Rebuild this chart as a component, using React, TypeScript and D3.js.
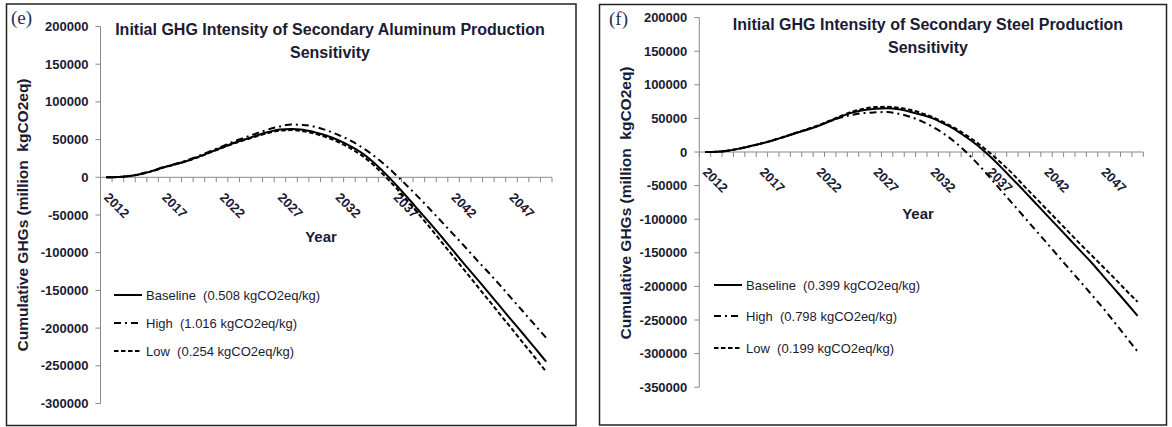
import React from 'react';
import * as d3 from 'd3';

const YEARS = [2012, 2013, 2014, 2015, 2016, 2017, 2018, 2019, 2020, 2021, 2022, 2023, 2024, 2025, 2026, 2027, 2028, 2029, 2030, 2031, 2032, 2033, 2034, 2035, 2036, 2037, 2038, 2039, 2040, 2041, 2042, 2043, 2044, 2045, 2046, 2047, 2048, 2049, 2050];
const YEAR_LABELS = [2012, 2017, 2022, 2027, 2032, 2037, 2042, 2047];

// (e) Secondary aluminum
const AL_BASELINE = [0, 400, 1800, 4500, 8500, 13500, 17500, 22000, 27500, 33500, 39500, 45500, 50400, 55500, 60000, 63300, 64200, 63000, 59800, 55500, 49500, 42000, 33000, 21000, 6500, -9500, -26500, -44000, -61500, -79500, -98000, -116500, -134500, -152500, -171000, -189500, -207500, -226000, -244500];
const AL_HIGH = [0, 400, 1900, 4700, 8800, 13800, 18000, 22800, 28500, 34800, 41000, 47500, 53000, 58500, 63500, 67500, 70000, 69500, 67000, 62500, 56500, 49500, 40500, 30000, 17500, 3500, -11500, -27000, -43000, -59500, -76000, -92500, -109500, -126000, -143000, -160500, -178000, -195500, -213000];
const AL_LOW = [0, 400, 1700, 4300, 8300, 13200, 17200, 21700, 27000, 33000, 39000, 44800, 49700, 54500, 58800, 61800, 62600, 61200, 57800, 53200, 47000, 39200, 29800, 17500, 2500, -13500, -31000, -49000, -67500, -86500, -105500, -124500, -143500, -162500, -181500, -200500, -219500, -238500, -258000];

// (f) Secondary steel
const ST_BASELINE = [0, 400, 2000, 5000, 8800, 12800, 17500, 22800, 28200, 33500, 39000, 46000, 53000, 59000, 62500, 64500, 65000, 63500, 60000, 55500, 50000, 42000, 33000, 21500, 9000, -6000, -22500, -40000, -57500, -75500, -93500, -111500, -129500, -147500, -165500, -185000, -204500, -224000, -244000];
const ST_HIGH = [0, 400, 2000, 5000, 8800, 12800, 17500, 22800, 28200, 33500, 39000, 46000, 51500, 55500, 58000, 59000, 59500, 57000, 52500, 46000, 37500, 27000, 14000, -1000, -18500, -37500, -57000, -76500, -96000, -115500, -135000, -154500, -174000, -193500, -213000, -233000, -254000, -275500, -297000];
const ST_LOW = [0, 400, 2000, 5000, 8800, 12900, 17700, 23000, 28700, 34200, 40000, 47000, 54000, 60500, 64500, 66800, 67300, 66000, 62800, 58000, 51800, 44000, 35000, 24500, 12500, -1000, -16000, -32000, -50000, -67500, -85000, -102500, -120000, -137500, -154500, -171500, -188500, -206000, -223000];

const AL_TICKS = [200000, 150000, 100000, 50000, 0, -50000, -100000, -150000, -200000, -250000, -300000];
const ST_TICKS = [200000, 150000, 100000, 50000, 0, -50000, -100000, -150000, -200000, -250000, -300000, -350000];

const AL_LEGEND = ['Baseline  (0.508 kgCO2eq/kg)', 'High  (1.016 kgCO2eq/kg)', 'Low  (0.254 kgCO2eq/kg)'];
const ST_LEGEND = ['Baseline  (0.399 kgCO2eq/kg)', 'High  (0.798 kgCO2eq/kg)', 'Low  (0.199 kgCO2eq/kg)'];

const AL_TITLE = ['Initial GHG Intensity of Secondary Aluminum Production', 'Sensitivity'];
const ST_TITLE = ['Initial GHG Intensity of Secondary Steel Production', 'Sensitivity'];

const SANS = '"Liberation Sans", Arial, sans-serif';
const TEXT = '#1b1b33';
const AXIS = '#8a8a8a';
const DASHES = ['none', '7,4,2,4', '4.5,2.5'];

type PanelCfg = {
  tag: string;
  box: [number, number, number, number];
  x0: number; x1: number;
  domain: [number, number]; range: [number, number];
  ticks: number[];
  series: number[][];
  legend: string[];
  legendX: number; legendY: number[];
  title: string[]; titleX: number; titleY: number[];
  yTitleX: number; yTitleY: number;
  yearX: number; yearY: number;
  tagX: number; tagY: number;
};

function Panel({ c }: { c: PanelCfg }) {
  const x = d3.scaleBand<number>().domain(YEARS).range([c.x0, c.x1]).padding(0);
  const y = d3.scaleLinear().domain(c.domain).range(c.range);
  const bw = x.bandwidth();
  const cx = (yr: number) => (x(yr) as number) + bw / 2;
  const y0 = y(0);
  const line = d3.line<number>()
    .x((_, i) => cx(YEARS[i]))
    .y((v) => y(v))
    .curve(d3.curveMonotoneX);
  const bounds = [...YEARS.map((yr) => x(yr) as number), c.x1];
  return (
    <g>
      <rect x={c.box[0]} y={c.box[1]} width={c.box[2]} height={c.box[3]} fill="#fff" stroke="#222" strokeWidth={1.5} />
      <text x={c.tagX} y={c.tagY} fontFamily='"Liberation Serif", "Times New Roman", serif' fontSize={19} fill="#1f2f55">{c.tag}</text>
      {c.title.map((t, i) => (
        <text key={i} x={c.titleX} y={c.titleY[i]} textAnchor="middle" fontFamily={SANS} fontWeight="bold" fontSize={16} fill={TEXT}>{t}</text>
      ))}
      {/* y axis */}
      <line x1={c.x0} x2={c.x0} y1={y(c.ticks[0])} y2={y(c.ticks[c.ticks.length - 1])} stroke={AXIS} strokeWidth={1} />
      {c.ticks.map((t) => (
        <g key={t}>
          <line x1={c.x0 - 5} x2={c.x0} y1={y(t)} y2={y(t)} stroke={AXIS} strokeWidth={1} />
          <text x={c.x0 - 12} y={y(t)} dy="0.35em" textAnchor="end" fontFamily={SANS} fontWeight="bold" fontSize={13} fill={TEXT}>{t}</text>
        </g>
      ))}
      {/* x axis */}
      <line x1={c.x0} x2={c.x1} y1={y0} y2={y0} stroke={AXIS} strokeWidth={1} />
      {bounds.map((b, i) => (
        <line key={i} x1={b} x2={b} y1={y0} y2={y0 + 5} stroke={AXIS} strokeWidth={1} />
      ))}
      {YEAR_LABELS.map((yr) => (
        <text key={yr} transform={`translate(${cx(yr) - 3},${y0 + 21}) rotate(45)`} fontFamily={SANS} fontWeight="bold" fontSize={13} fill={TEXT}>{yr}</text>
      ))}
      <text x={c.yearX} y={c.yearY} dy="0.35em" textAnchor="middle" fontFamily={SANS} fontWeight="bold" fontSize={15} fill={TEXT}>Year</text>
      <text transform={`translate(${c.yTitleX},${c.yTitleY}) rotate(-90)`} dy="0.35em" textAnchor="middle" fontFamily={SANS} fontWeight="bold" fontSize={15.5} fill={TEXT} style={{ whiteSpace: 'pre' }}>Cumulative GHGs (million  kgCO2eq)</text>
      {/* series */}
      {c.series.map((s, i) => (
        <path key={i} d={line(s) || ''} fill="none" stroke="#000" strokeWidth={2} strokeDasharray={DASHES[i]} />
      ))}
      {/* legend */}
      {c.legend.map((l, i) => (
        <g key={i}>
          <line x1={c.legendX} x2={c.legendX + 28} y1={c.legendY[i]} y2={c.legendY[i]} stroke="#000" strokeWidth={2} strokeDasharray={DASHES[i]} />
          <text x={c.legendX + 32} y={c.legendY[i]} dy="0.35em" fontFamily={SANS} fontSize={13} fill={TEXT} style={{ whiteSpace: 'pre' }}>{l}</text>
        </g>
      ))}
    </g>
  );
}

const LEFT: PanelCfg = {
  tag: '(e)', box: [6.5, 4, 569.5, 421.5],
  x0: 100.5, x1: 552, domain: [-300000, 200000], range: [403.5, 26.5],
  ticks: AL_TICKS, series: [AL_BASELINE, AL_HIGH, AL_LOW], legend: AL_LEGEND,
  legendX: 114, legendY: [295, 323, 351],
  title: AL_TITLE, titleX: 330, titleY: [34.5, 57.5],
  yTitleX: 22.5, yTitleY: 215, yearX: 321, yearY: 237, tagX: 11, tagY: 24,
};

const RIGHT: PanelCfg = {
  tag: '(f)', box: [599.5, 4.5, 567, 420.5],
  x0: 699.3, x1: 1143.3, domain: [-350000, 200000], range: [387.2, 17.6],
  ticks: ST_TICKS, series: [ST_BASELINE, ST_HIGH, ST_LOW], legend: ST_LEGEND,
  legendX: 714, legendY: [285, 316, 348],
  title: ST_TITLE, titleX: 928, titleY: [30, 52.5],
  yTitleX: 626, yTitleY: 203, yearX: 918, yearY: 214, tagX: 609, tagY: 25,
};

export default function App() {
  return (
    <svg width={1172} height={427} style={{ position: 'absolute', left: 0, top: 0, background: '#fff' }}>
      <rect x={0} y={0} width={1172} height={427} fill="#fff" />
      <Panel c={LEFT} />
      <Panel c={RIGHT} />
    </svg>
  );
}
